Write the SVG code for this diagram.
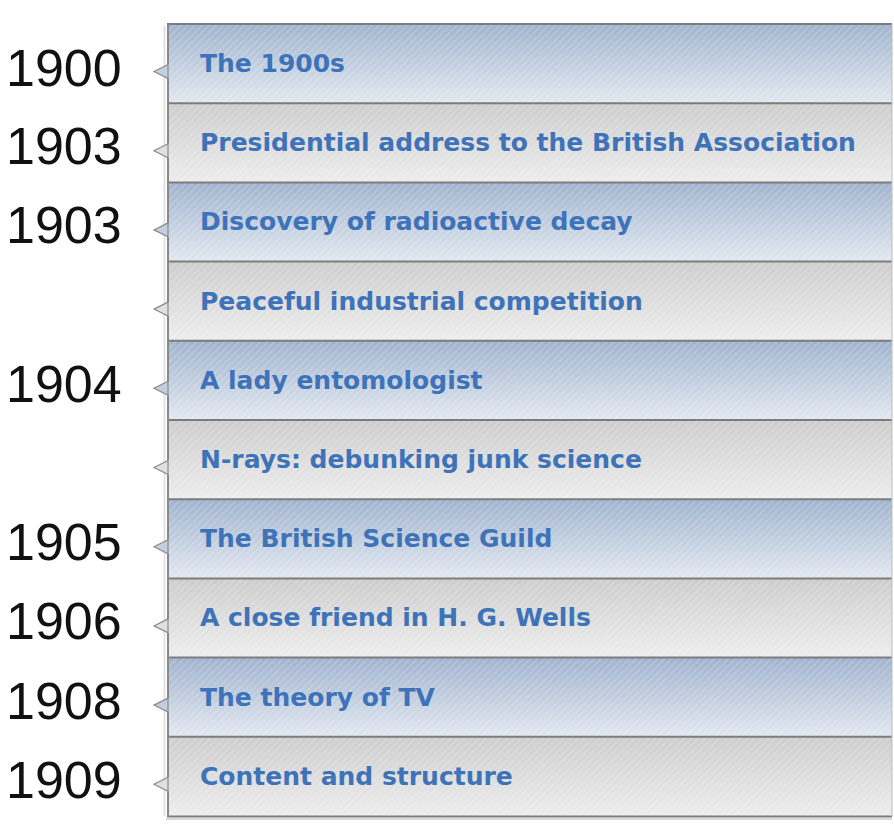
<svg xmlns="http://www.w3.org/2000/svg" width="894" height="837" viewBox="0 0 894 837">
<defs>
<linearGradient id="gBlue" x1="0" y1="0" x2="0" y2="1">
<stop offset="0" stop-color="#a0b3ce"/>
<stop offset="1" stop-color="#e2e8f0"/>
</linearGradient>
<linearGradient id="gGrey" x1="0" y1="0" x2="0" y2="1">
<stop offset="0" stop-color="#cdcdcd"/>
<stop offset="1" stop-color="#ededed"/>
</linearGradient>
<pattern id="stripes" width="5" height="5" patternUnits="userSpaceOnUse" patternTransform="rotate(45)">
<rect x="0" y="0" width="1.6" height="5" fill="#ffffff" fill-opacity="0.18"/>
</pattern>
<style>
.blue{fill:url(#gBlue)}
.grey{fill:url(#gGrey)}
.str{fill:url(#stripes)}
.sep{stroke:#7d7d7d;stroke-width:2}
.notch{stroke:#8a8a8a;stroke-width:1.2}
.lbl{font-family:"DejaVu Sans",Verdana,sans-serif;font-weight:bold;font-size:25px;fill:#3e73b9}
.yr{font-family:"Liberation Sans",Arial,sans-serif;font-size:52px;fill:#111111}
</style>
</defs>
<rect width="894" height="837" fill="#ffffff"/>
<line x1="164.5" y1="26" x2="164.5" y2="816" stroke="#e2e2e2" stroke-width="2"/>
<line x1="166" y1="819" x2="892" y2="819" stroke="#d8d8d8" stroke-width="2"/>

<g id="row1">
<rect class="blue" x="168" y="24" width="724" height="79.2"/>
<rect class="str" x="168" y="24" width="724" height="79.2"/>
<polygon class="notch" fill="#c2cfdf" points="168,64.5 154,71.5 168,78.5"/>
<text class="lbl" x="200" y="72">The 1900s</text>
<text class="yr" x="6" y="86">1900</text>
</g>
<g id="row2">
<rect class="grey" x="168" y="103.2" width="724" height="79.2"/>
<rect class="str" x="168" y="103.2" width="724" height="79.2"/>
<polygon class="notch" fill="#e0e0e0" points="168,143.7 154,150.7 168,157.7"/>
<text class="lbl" x="200" y="151.2">Presidential address to the British Association</text>
<text class="yr" x="6" y="164">1903</text>
</g>
<g id="row3">
<rect class="blue" x="168" y="182.4" width="724" height="79.2"/>
<rect class="str" x="168" y="182.4" width="724" height="79.2"/>
<polygon class="notch" fill="#c2cfdf" points="168,222.9 154,229.9 168,236.9"/>
<text class="lbl" x="200" y="230.4">Discovery of radioactive decay</text>
<text class="yr" x="6" y="243.4">1903</text>
</g>
<g id="row4">
<rect class="grey" x="168" y="261.6" width="724" height="79.2"/>
<rect class="str" x="168" y="261.6" width="724" height="79.2"/>
<polygon class="notch" fill="#e0e0e0" points="168,302.1 154,309.1 168,316.1"/>
<text class="lbl" x="200" y="309.6">Peaceful industrial competition</text>
</g>
<g id="row5">
<rect class="blue" x="168" y="340.8" width="724" height="79.2"/>
<rect class="str" x="168" y="340.8" width="724" height="79.2"/>
<polygon class="notch" fill="#c2cfdf" points="168,381.3 154,388.3 168,395.3"/>
<text class="lbl" x="200" y="388.8">A lady entomologist</text>
<text class="yr" x="6" y="401.8">1904</text>
</g>
<g id="row6">
<rect class="grey" x="168" y="420" width="724" height="79.2"/>
<rect class="str" x="168" y="420" width="724" height="79.2"/>
<polygon class="notch" fill="#e0e0e0" points="168,460.5 154,467.5 168,474.5"/>
<text class="lbl" x="200" y="468">N-rays: debunking junk science</text>
</g>
<g id="row7">
<rect class="blue" x="168" y="499.2" width="724" height="79.2"/>
<rect class="str" x="168" y="499.2" width="724" height="79.2"/>
<polygon class="notch" fill="#c2cfdf" points="168,539.7 154,546.7 168,553.7"/>
<text class="lbl" x="200" y="547.2">The British Science Guild</text>
<text class="yr" x="6" y="560.2">1905</text>
</g>
<g id="row8">
<rect class="grey" x="168" y="578.4" width="724" height="79.2"/>
<rect class="str" x="168" y="578.4" width="724" height="79.2"/>
<polygon class="notch" fill="#e0e0e0" points="168,618.9 154,625.9 168,632.9"/>
<text class="lbl" x="200" y="626.4">A close friend in H. G. Wells</text>
<text class="yr" x="6" y="639.4">1906</text>
</g>
<g id="row9">
<rect class="blue" x="168" y="657.6" width="724" height="79.2"/>
<rect class="str" x="168" y="657.6" width="724" height="79.2"/>
<polygon class="notch" fill="#c2cfdf" points="168,698.1 154,705.1 168,712.1"/>
<text class="lbl" x="200" y="705.6">The theory of TV</text>
<text class="yr" x="6" y="718.6">1908</text>
</g>
<g id="row10">
<rect class="grey" x="168" y="736.8" width="724" height="79.2"/>
<rect class="str" x="168" y="736.8" width="724" height="79.2"/>
<polygon class="notch" fill="#e0e0e0" points="168,777.3 154,784.3 168,791.3"/>
<text class="lbl" x="200" y="784.8">Content and structure</text>
<text class="yr" x="6" y="797.8">1909</text>
</g>

<g id="connectors">
<line class="sep" x1="167" y1="24" x2="892" y2="24"/>
<line class="sep" x1="168" y1="103.2" x2="892" y2="103.2"/>
<line class="sep" x1="168" y1="182.4" x2="892" y2="182.4"/>
<line class="sep" x1="168" y1="261.6" x2="892" y2="261.6"/>
<line class="sep" x1="168" y1="340.8" x2="892" y2="340.8"/>
<line class="sep" x1="168" y1="420" x2="892" y2="420"/>
<line class="sep" x1="168" y1="499.2" x2="892" y2="499.2"/>
<line class="sep" x1="168" y1="578.4" x2="892" y2="578.4"/>
<line class="sep" x1="168" y1="657.6" x2="892" y2="657.6"/>
<line class="sep" x1="168" y1="736.8" x2="892" y2="736.8"/>
<line class="sep" x1="167" y1="816.5" x2="892" y2="816.5"/>
<path d="M168,24 V64.5 M168,78.5 V143.7 M168,157.7 V222.9 M168,236.9 V302.1 M168,316.1 V381.3 M168,395.3 V460.5 M168,474.5 V539.7 M168,553.7 V618.9 M168,632.9 V698.1 M168,712.1 V777.3 M168,791.3 V817" stroke="#888888" stroke-width="2" fill="none"/>
<line x1="892" y1="24" x2="892" y2="816" stroke="#bdbdbd" stroke-width="1"/>
</g>
</svg>
